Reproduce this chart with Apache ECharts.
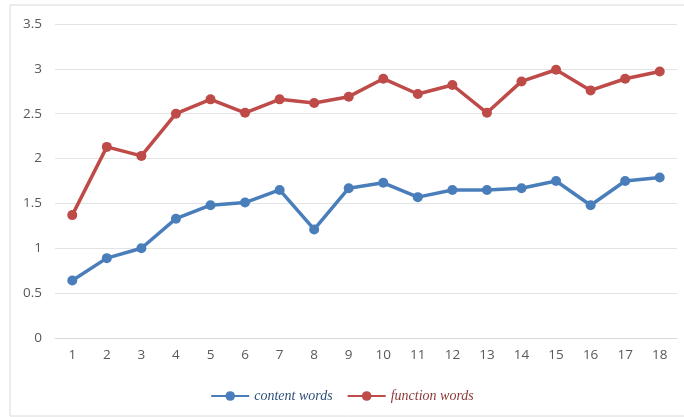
<!DOCTYPE html>
<html>
<head>
<meta charset="utf-8">
<script src="https://cdn.jsdelivr.net/npm/echarts@6/dist/echarts.min.js"></script>
<style>
  html, body { margin: 0; padding: 0; background: #fff; }
  #chart { width: 684px; height: 417px; }
</style>
</head>
<body>
<div id="chart"></div>
<script>
// Text positions 1..18
const categories = ['1','2','3','4','5','6','7','8','9','10','11','12','13','14','15','16','17','18'];
const contentWords = [0.64, 0.89, 1.00, 1.33, 1.48, 1.51, 1.65, 1.21, 1.67, 1.73, 1.57, 1.65, 1.65, 1.67, 1.75, 1.48, 1.75, 1.79];
const functionWords = [1.37, 2.13, 2.03, 2.50, 2.66, 2.51, 2.66, 2.62, 2.69, 2.89, 2.72, 2.82, 2.51, 2.86, 2.99, 2.76, 2.89, 2.97];

const blue = '#4a7ebb';
const red = '#be4b48';

const chart = echarts.init(document.getElementById('chart'));
chart.setOption({
  animation: false,
  backgroundColor: '#ffffff',
  graphic: [{
    type: 'rect',
    shape: { x: 10, y: 5, width: 690, height: 411 },
    style: { fill: 'none', stroke: '#d9d9d9', lineWidth: 1 },
    silent: true
  }],
  grid: { left: 55, right: 7, top: 24, bottom: 79 },
  legend: {
    bottom: 9,
    left: 'center',
    itemWidth: 38,
    itemHeight: 12,
    itemGap: 14,
    textStyle: { fontFamily: 'Liberation Serif', fontStyle: 'italic', fontSize: 14, color: '#555' },
    data: [
      { name: 'content words', textStyle: { color: '#2f4f7a' } },
      { name: 'function words', textStyle: { color: '#8c3a38' } }
    ]
  },
  xAxis: {
    type: 'category',
    data: categories,
    boundaryGap: true,
    axisLine: { lineStyle: { color: '#d9d9d9' } },
    axisTick: { show: false },
    axisLabel: { color: '#595959', fontSize: 13.5, fontFamily: 'Open Sans', margin: 10 }
  },
  yAxis: {
    type: 'value',
    min: 0,
    max: 3.5,
    interval: 0.5,
    axisLine: { show: false },
    axisTick: { show: false },
    splitLine: { lineStyle: { color: '#e3e3e3' } },
    axisLabel: { color: '#595959', fontSize: 13.5, fontFamily: 'Open Sans', margin: 13 }
  },
  series: [
    {
      name: 'content words',
      type: 'line',
      data: contentWords,
      symbol: 'circle',
      symbolSize: 10,
      lineStyle: { color: blue, width: 3.5 },
      itemStyle: { color: blue }
    },
    {
      name: 'function words',
      type: 'line',
      data: functionWords,
      symbol: 'circle',
      symbolSize: 10,
      lineStyle: { color: red, width: 3.5 },
      itemStyle: { color: red }
    }
  ]
});
</script>
</body>
</html>
